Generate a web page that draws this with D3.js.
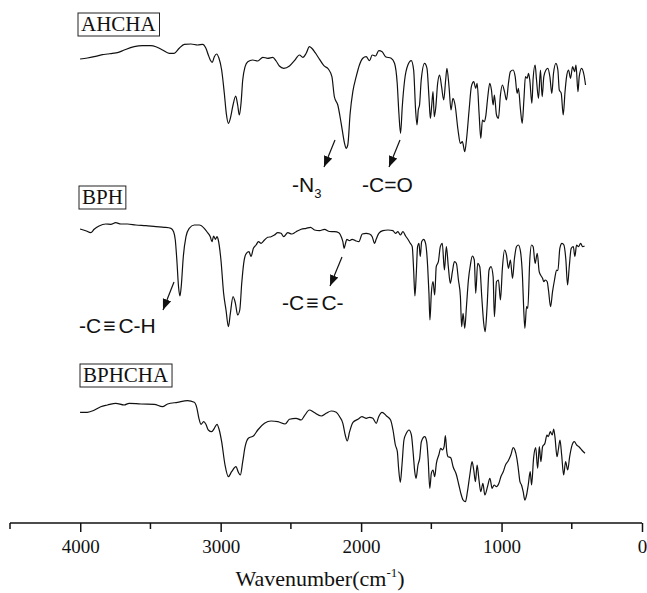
<!DOCTYPE html>
<html>
<head>
<meta charset="utf-8">
<script src="https://cdn.jsdelivr.net/npm/d3@7"></script>
<style>
  body { margin: 0; background: #fff; }
  svg { display: block; }
</style>
</head>
<body>
<div id="root"></div>
<script>
// spectra: [wavenumber cm-1, transmittance a.u.]
const ahcha = [[4001,101],[3949,102],[3901,103.3],[3842,105.3],[3806,106],[3771,106.7],[3735,107.3],[3687,110],[3616,113.3],[3557,114.3],[3497,114.3],[3461,113.3],[3414,110],[3366,106.7],[3331,106.7],[3295,111.7],[3259,115.7],[3212,116],[3164,115],[3128,115.7],[3105,111.7],[3088,105],[3074,100],[3060,97.7],[3045,103.3],[3029,106],[3012,101.7],[2993,90],[2974,66.7],[2960,46.7],[2945,36.7],[2931,41.7],[2912,55],[2893,64],[2879,55],[2867,45],[2855,56.7],[2843,80],[2826,93.3],[2807,98.3],[2772,100],[2736,99],[2700,102.7],[2665,101.7],[2629,102.7],[2605,99],[2582,94],[2551,91.7],[2510,94],[2475,99.3],[2439,105],[2415,102.7],[2391,106.7],[2368,113.3],[2351,111.7],[2327,107.3],[2296,100.7],[2265,94.3],[2232,90.7],[2208,83.3],[2190,63],[2166,55],[2142,36.7],[2118,16.7],[2107,11.7],[2095,15],[2078,46.7],[2059,68.3],[2035,83.3],[2012,95],[1988,101.7],[1964,103.3],[1940,99.3],[1921,105],[1897,104],[1874,109.3],[1850,108.3],[1826,103.3],[1786,101.7],[1762,96.7],[1743,76.7],[1731,46.7],[1719,26.7],[1707,53.3],[1690,80],[1667,95],[1643,99.3],[1626,90],[1612,50],[1602,35],[1593,50],[1584,55],[1572,80],[1548,96.7],[1531,91.7],[1517,63.3],[1507,41.7],[1498,53.3],[1488,68.3],[1479,43.3],[1469,51.7],[1455,76.7],[1441,85],[1427,73.3],[1412,60],[1398,80],[1389,91.7],[1374,73.3],[1360,50],[1346,61.7],[1331,55],[1310,30],[1293,16.7],[1279,18.3],[1262,8.3],[1250,20],[1231,50],[1215,73.3],[1198,78.3],[1184,71.7],[1174,76.7],[1160,46.7],[1148,21.7],[1136,40],[1124,38.3],[1113,43.3],[1098,63.3],[1084,76.7],[1072,70],[1060,55],[1051,65],[1036,45],[1022,41.7],[1008,65],[994,75],[979,68.3],[965,60],[951,76.7],[937,88.3],[918,90],[903,83.3],[889,66.7],[880,71.7],[865,50],[853,36.7],[841,60],[830,83.3],[818,81.7],[808,86.7],[799,80],[784,56.7],[775,81.7],[761,95],[751,80],[737,61.7],[723,90],[711,63.3],[699,83.3],[684,90],[670,91.7],[656,83.3],[642,66.7],[630,86.7],[613,96.7],[599,90],[589,70],[575,66.7],[561,45],[548,68.3],[537,83.3],[523,90],[509,81.7],[494,93.3],[480,88.3],[470,95],[456,68.3],[447,83.3],[430,91.7],[413,85],[402,75]];

const bph = [[4001,111],[3961,109.3],[3925,107.3],[3901,110.7],[3866,114],[3818,116],[3782,115.7],[3747,117.3],[3711,116],[3664,116],[3604,115],[3533,114.3],[3461,113.3],[3402,112.7],[3354,111.7],[3335,108.3],[3323,100],[3312,80],[3300,53.3],[3290,44],[3281,53.3],[3266,83.3],[3247,103.3],[3224,111.7],[3188,115],[3152,115],[3117,111.7],[3093,107.3],[3074,103.3],[3062,98.3],[3050,104],[3038,100.7],[3026,103.3],[3017,100],[2998,80],[2979,46.7],[2962,30],[2945,13.3],[2931,26.7],[2912,43.3],[2895,36.7],[2879,25],[2864,30],[2850,56.7],[2836,76.7],[2817,86.7],[2798,88.3],[2784,83.3],[2767,91.7],[2748,95],[2731,98.3],[2712,96.7],[2688,100],[2665,102.7],[2641,103.3],[2617,105],[2593,107.3],[2570,106.7],[2551,103.3],[2522,107.3],[2494,106],[2463,108.3],[2427,110.7],[2391,111.7],[2360,112.7],[2332,110],[2296,109.3],[2261,110.7],[2225,108.5],[2190,108.3],[2159,107.3],[2140,102.7],[2130,98.3],[2121,91.7],[2111,96.7],[2102,100.7],[2083,99.3],[2064,100.7],[2040,99.3],[2016,98.3],[1992,106],[1964,106.7],[1940,106],[1921,103.3],[1904,96.7],[1893,100.7],[1874,106.7],[1845,109.3],[1809,110],[1774,109.3],[1755,106.7],[1738,108.3],[1721,105],[1702,108.3],[1683,104],[1667,100.7],[1650,96.7],[1636,93.3],[1626,70],[1617,44],[1607,66.7],[1598,93.3],[1588,96.7],[1579,83.3],[1569,98.3],[1555,100.7],[1541,96.7],[1526,73.3],[1517,46.7],[1510,20],[1500,46.7],[1488,58.3],[1476,45],[1465,73.3],[1450,78.3],[1436,93.3],[1422,96.7],[1407,70],[1393,93.3],[1379,73.3],[1365,56.7],[1350,68.3],[1336,78.3],[1322,76.7],[1307,60],[1293,43.3],[1284,13.3],[1274,26.7],[1262,11.7],[1250,33.3],[1236,60],[1222,75],[1208,84],[1194,80],[1184,46.7],[1170,76.7],[1155,73.3],[1141,43.3],[1127,16.7],[1117,8.3],[1103,33.3],[1089,70],[1075,73.3],[1060,63.3],[1051,23.3],[1036,58.3],[1022,60],[1008,40],[994,71.7],[979,90],[965,85],[951,71.7],[937,80],[922,61.7],[908,81.7],[894,93.3],[880,95],[865,88.3],[851,63.3],[842,30],[834,11.7],[822,33.3],[813,31.7],[799,80],[787,95],[775,93.3],[761,76.7],[746,86.7],[732,68.3],[722,65],[708,61.7],[699,58.3],[689,60],[675,58.3],[666,50],[651,33.3],[637,48.3],[623,60],[608,70],[599,69.3],[585,91.7],[570,96.7],[556,95],[542,80],[530,55],[518,73.3],[504,91.7],[489,93.3],[478,83.3],[466,95],[452,93.3],[437,96.7],[423,93.3],[409,94]];

const bphcha = [[4001,102.7],[3949,102.7],[3901,104.7],[3854,108.3],[3806,110],[3747,111.7],[3687,110],[3652,111.7],[3568,111],[3473,110.7],[3414,108.3],[3378,111],[3307,112.7],[3236,114.3],[3188,112.7],[3169,106.7],[3155,96.7],[3140,90.7],[3121,93.3],[3105,90.7],[3088,85],[3064,83.3],[3045,86.7],[3026,90.7],[3010,85],[2993,73.3],[2969,50],[2945,38.3],[2922,43.3],[2891,48.3],[2874,42.7],[2860,40],[2843,53.3],[2826,68.3],[2803,76.7],[2765,79.3],[2736,85],[2688,91.7],[2641,94],[2593,93.3],[2541,91],[2510,95.7],[2463,96.7],[2427,95],[2403,99.3],[2368,105],[2337,102.7],[2284,99],[2249,101.7],[2213,104],[2177,102.7],[2153,98.3],[2130,91.7],[2113,80],[2099,74],[2082,83.3],[2058,92.7],[2023,95.7],[1994,98.3],[1963,96.7],[1940,97.7],[1916,96.7],[1892,91.7],[1875,98.3],[1851,102.7],[1821,99.3],[1790,95],[1773,85],[1756,70],[1742,63.3],[1733,46.7],[1721,32.7],[1709,50],[1695,75],[1678,81.7],[1659,85],[1642,80],[1630,63.3],[1618,43.3],[1609,36.7],[1595,50],[1583,56.7],[1571,73.3],[1547,78.3],[1533,73.3],[1523,56.7],[1511,26.7],[1500,41.7],[1488,45],[1476,38.3],[1464,51.7],[1447,60],[1433,66.7],[1421,65],[1409,68.3],[1400,79.3],[1390,63.3],[1381,58.3],[1362,57.3],[1345,48.3],[1321,40],[1304,30],[1290,21.7],[1274,15],[1257,13.3],[1243,23.3],[1226,40],[1210,53.3],[1198,45],[1186,33.3],[1174,50],[1162,36.7],[1148,23.3],[1133,31.7],[1119,20],[1100,28.3],[1083,36.7],[1067,26.7],[1053,30],[1036,28.3],[1019,31.7],[1005,38.3],[988,43.3],[972,50],[953,54],[934,60],[917,67.3],[905,65],[891,56.7],[881,46.7],[869,33.3],[858,30],[846,23.3],[834,15],[822,20],[810,30],[796,43.3],[786,30],[772,56.7],[757,67.3],[743,46.7],[731,68.3],[720,53.3],[708,68.3],[691,71.7],[677,80],[667,78.3],[653,83.3],[639,80],[629,86],[620,78.3],[605,58.3],[596,65],[584,75],[572,60],[558,40],[544,53.3],[529,45],[515,58.3],[501,68.3],[482,73.3],[465,70],[449,68.3],[429,65],[406,61.7]];

const seriesNames = ['AHCHA', 'BPH', 'BPHCHA'];
const xTicks = [4000, 3000, 2000, 1000, 0];
const xMinor = [4500, 3500, 2500, 1500, 500];

const width = 647, height = 593;
const svg = d3.select('#root').append('svg')
  .attr('width', width)
  .attr('height', height);

const x = d3.scaleLinear().domain([4500, 0]).range([10, 642]);

// one vertical band per spectrum, stacked
const panels = [
  { name: seriesNames[0], data: ahcha, bottom: 160, box: [81, 31] },
  { name: seriesNames[1], data: bph, bottom: 340, box: [82, 204] },
  { name: seriesNames[2], data: bphcha, bottom: 515, box: [83, 382] }
];

const line = d3.line().curve(d3.curveMonotoneX);

panels.forEach(p => {
  const y = d3.scaleLinear().domain([0, 130]).range([p.bottom, p.bottom - 130]);
  line.x(d => x(d[0])).y(d => y(d[1]));
  svg.append('path')
    .datum(p.data)
    .attr('d', line)
    .attr('fill', 'none')
    .attr('stroke', '#111')
    .attr('stroke-width', 1.2);

  const t = svg.append('text')
    .attr('x', p.box[0])
    .attr('y', p.box[1])
    .attr('font-family', 'Liberation Serif, Times New Roman, serif')
    .attr('font-size', 21)
    .attr('fill', '#111')
    .text(p.name);
  const bb = t.node().getBBox();
  svg.insert('rect', 'text')
    .attr('x', bb.x - 3)
    .attr('y', bb.y + 1)
    .attr('width', bb.width + 6)
    .attr('height', bb.height - 1)
    .attr('fill', 'none')
    .attr('stroke', '#222')
    .attr('stroke-width', 1);
});

// arrow head
svg.append('defs').append('marker')
  .attr('id', 'arr')
  .attr('viewBox', '0 0 10 10')
  .attr('refX', 10).attr('refY', 5)
  .attr('markerWidth', 11).attr('markerHeight', 11)
  .attr('markerUnits', 'userSpaceOnUse')
  .attr('orient', 'auto')
  .append('path')
  .attr('d', 'M0,1 L10,5 L0,9 Z')
  .attr('fill', '#111');

const arrows = [[335, 140, 324, 167], [400, 140, 389, 167], [174, 282, 163, 310], [342, 257, 330, 286]];
svg.selectAll('line.arrow')
  .data(arrows)
  .join('line')
  .attr('class', 'arrow')
  .attr('x1', d => d[0]).attr('y1', d => d[1])
  .attr('x2', d => d[2]).attr('y2', d => d[3])
  .attr('stroke', '#111')
  .attr('stroke-width', 1.2)
  .attr('marker-end', 'url(#arr)');

const sans = 'Liberation Sans, Arial, sans-serif';
const n3 = svg.append('text')
  .attr('x', 292).attr('y', 192)
  .attr('font-family', sans).attr('font-size', 21).attr('fill', '#111');
n3.append('tspan').text('-N');
n3.append('tspan').attr('font-size', 13).attr('dy', 6).text('3');

svg.append('text')
  .attr('x', 362).attr('y', 192)
  .attr('font-family', sans).attr('font-size', 21).attr('fill', '#111')
  .text('-C=O');

// triple bond labels: widen the spacing round the bond sign
function bondLabel(x0, y0, after) {
  const t = svg.append('text')
    .attr('x', x0).attr('y', y0)
    .attr('font-family', sans).attr('font-size', 21).attr('fill', '#111');
  t.append('tspan').text('-C');
  t.append('tspan').attr('dx', 2).text('\u2261');
  t.append('tspan').attr('dx', 3).text(after);
}
bondLabel(79, 333, 'C-H');
bondLabel(282, 310, 'C-');

// x axis
const axisY = 523;
const ax = svg.append('g').attr('transform', `translate(0,${axisY})`);
ax.call(d3.axisBottom(x).tickValues(xTicks).tickSize(9).tickPadding(8).tickFormat(d3.format('d')));
ax.call(g => g.selectAll('.minor')
  .data(xMinor)
  .join('line')
  .attr('class', 'minor')
  .attr('x1', d => x(d)).attr('x2', d => x(d))
  .attr('y1', 0).attr('y2', 6)
  .attr('stroke', '#111')
  .attr('stroke-width', 1.5));
ax.select('.domain').attr('stroke', '#111').attr('stroke-width', 1.5).attr('d', `M${x(4500)},0H${x(0)}`);
ax.selectAll('.tick line').attr('stroke', '#111').attr('stroke-width', 1.5);
ax.selectAll('.tick text')
  .attr('font-family', 'Liberation Serif, Times New Roman, serif')
  .attr('font-size', 19)
  .attr('fill', '#111');

const title = svg.append('text')
  .attr('x', 320).attr('y', 586)
  .attr('text-anchor', 'middle')
  .attr('font-family', 'Liberation Serif, Times New Roman, serif')
  .attr('font-size', 22)
  .attr('fill', '#111');
title.append('tspan').text('Wavenumber(cm');
title.append('tspan').attr('font-size', 13).attr('dy', -9).text('-1');
title.append('tspan').attr('dy', 9).text(')');
</script>
</body>
</html>
